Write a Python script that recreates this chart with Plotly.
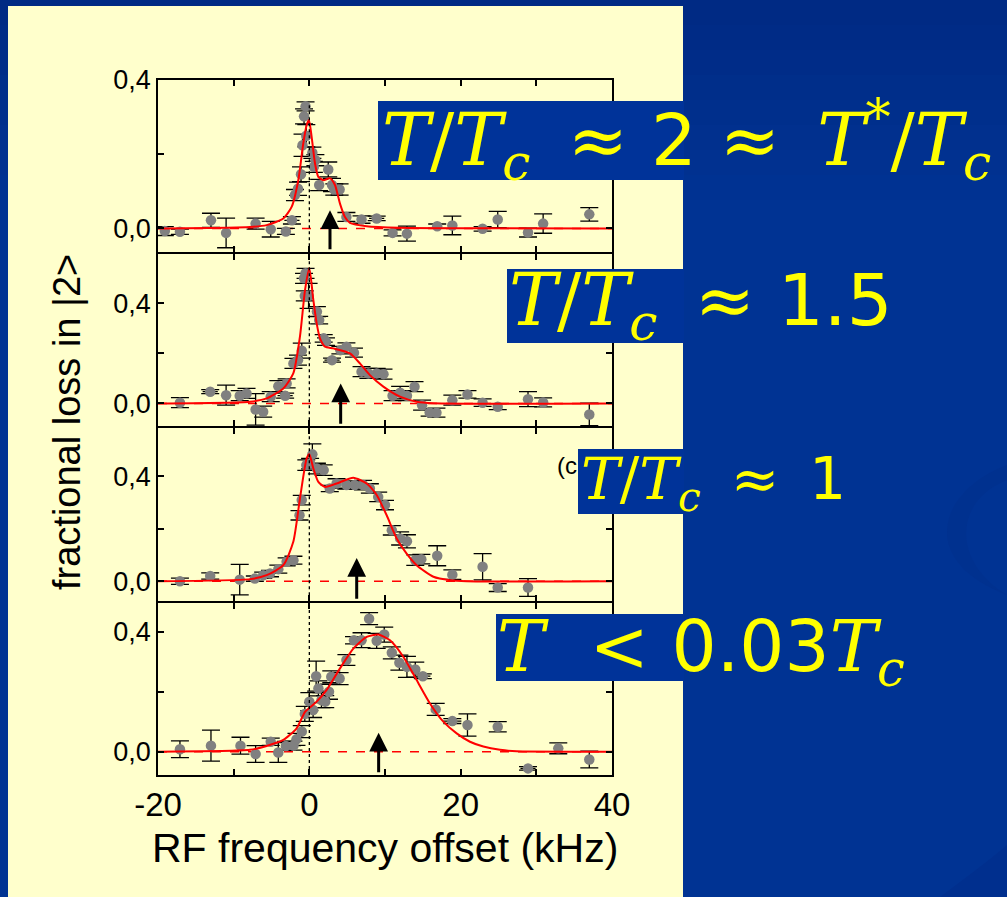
import plotly.graph_objects as go

W, H = 1007, 897

# ---------------- data ----------------
# panel (a)  T/Tc ~ 2
x1 = [-19.1, -17.1, -13.0, -11.0, -7.1, -5.1, -3.1, -2.3, -1.9, -1.5, -1.1, -0.9, -0.7, -0.5, -0.4,
      0.4, 0.6, 0.8, 1.3, 2.5, 3.0, 3.3, 4.0, 4.9, 6.9, 8.9, 11.0, 12.9, 16.9, 18.9, 22.9, 24.9, 28.9, 30.9, 37.0]
y1 = [-0.007, -0.009, 0.022, -0.012, 0.013, -0.002, -0.008, 0.022, 0.090, 0.107, 0.146, 0.224, 0.302, 0.329, 0.250,
      0.204, 0.166, 0.184, 0.117, 0.159, 0.117, 0.105, 0.105, 0.031, 0.024, 0.027, -0.012, -0.014, 0.006, 0.008,
      -0.001, 0.024, -0.011, 0.013, 0.038]
e1 = [0.012, 0.007, 0.019, 0.040, 0.015, 0.021, 0.008, 0.010, 0.015, 0.018, 0.020, 0.030, 0.020, 0.012, 0.030,
      0.015, 0.015, 0.015, 0.015, 0.020, 0.018, 0.015, 0.015, 0.012, 0.010, 0.006, 0.008, 0.020, 0.006, 0.025,
      0.006, 0.022, 0.012, 0.026, 0.018]
xe1 = [0, 0, 0, 0, 0, 0, 0, 1.0, 0, 0, 0, 0, 0, 0, 0,
       0, 0, 0, 0, 0, 0, 0, 0, 0, 0, 1.0, 0, 0, 0, 0, 0, 0, 0, 0, 0]
fx1 = [-20, -7.84, -5.64, -3.44, -2.34, -1.46, -0.80, -0.36, -0.05, 0.31, 0.75, 1.19, 1.85, 2.73, 3.39,
       4.05, 4.71, 5.37, 7.57, 11.98, 40]
fy1 = [0.0, 0.004, 0.009, 0.027, 0.058, 0.130, 0.229, 0.278, 0.292, 0.246, 0.175, 0.139, 0.130, 0.135, 0.117,
       0.067, 0.031, 0.015, 0.006, 0.002, 0.0]

# panel (b)  T/Tc ~ 1.5
x2 = [-17.1, -13.1, -11.0, -9.2, -8.3, -7.1, -6.1, -5.1, -4.1, -3.2, -3.0, -2.1, -1.5, -1.0, -0.7, -0.6, -0.5,
      -0.1, 1.0, 1.3, 1.9, 2.2, 3.0, 4.1, 4.9, 5.9, 6.9, 7.8, 8.9, 9.8, 11.0, 12.0, 12.9, 13.9, 14.9, 15.9,
      16.8, 18.9, 20.9, 22.9, 24.9, 28.9, 30.9, 37.0]
y2 = [0.003, 0.047, 0.033, 0.031, 0.040, -0.024, -0.033, 0.027, 0.069, 0.031, 0.080, 0.160, 0.173, 0.211, 0.500,
      0.430, 0.520, 0.430, 0.367, 0.333, 0.260, 0.247, 0.173, 0.213, 0.227, 0.203, 0.127, 0.120, 0.120, 0.117,
      0.031, 0.043, 0.031, 0.067, -0.007, -0.036, -0.037, 0.013, 0.036, 0.003, -0.013, 0.017, 0.004, -0.044]
e2 = [0.020, 0.008, 0.040, 0.020, 0.020, 0.063, 0.022, 0.020, 0.022, 0.010, 0.018, 0.020, 0.020, 0.030, 0.020,
      0.020, 0.020, 0.050, 0.020, 0.015, 0.015, 0.015, 0.008, 0.015, 0.015, 0.018, 0.020, 0.020, 0.020, 0.020,
      0.020, 0.025, 0.020, 0.020, 0.020, 0.015, 0.018, 0.020, 0.015, 0.015, 0.012, 0.030, 0.018, 0.045]
xe2 = [0, 1.0, 0, 0, 0, 0, 0, 0, 0, 1.0, 0, 0, 0, 0, 0, 0, 0,
       0, 0, 0, 0, 0, 1.0, 0, 0, 0, 0, 0, 0, 0, 0, 0, 0, 0, 0, 0,
       0, 0, 0, 0, 0, 0, 0, 0]
fx2 = [-20, -7.84, -5.64, -3.44, -2.12, -1.24, -0.57, 0.0, 0.53, 0.97, 1.41, 2.07, 3.17, 5.37, 6.69, 8.0, 9.78,
       11.98, 14.18, 16.4, 40]
fy2 = [0.0, 0.007, 0.020, 0.060, 0.120, 0.267, 0.453, 0.540, 0.413, 0.320, 0.260, 0.227, 0.220, 0.200, 0.160,
       0.113, 0.067, 0.027, 0.007, 0.001, 0.0]

# panel (c)  T/Tc ~ 1
x3 = [-17.1, -13.1, -9.2, -7.2, -6.1, -5.2, -4.1, -3.0, -2.1, -1.3, -1.0, -0.4, 0.1, 0.4, 1.0, 1.9, 2.7, 3.6,
      4.9, 6.0, 7.1, 8.0, 9.1, 10.0, 10.9, 12.0, 12.9, 14.0, 14.8, 16.9, 18.9, 22.9, 24.9, 28.9]
y3 = [0.0, 0.020, 0.006, 0.010, 0.023, 0.029, 0.046, 0.074, 0.080, 0.251, 0.309, 0.442, 0.448, 0.483, 0.429,
      0.423, 0.353, 0.372, 0.366, 0.366, 0.366, 0.353, 0.321, 0.290, 0.194, 0.163, 0.152, 0.080, 0.084, 0.097,
      0.025, 0.055, -0.024, -0.024]
e3 = [0.012, 0.012, 0.058, 0.010, 0.012, 0.012, 0.015, 0.015, 0.015, 0.018, 0.018, 0.020, 0.020, 0.040, 0.020,
      0.020, 0.012, 0.018, 0.015, 0.015, 0.018, 0.018, 0.018, 0.018, 0.018, 0.025, 0.025, 0.020, 0.018, 0.038,
      0.018, 0.050, 0.015, 0.034]
xe3 = [0] * len(x3)
fx3 = [-20, -7.84, -5.64, -3.44, -2.12, -1.24, -0.36, 0.0, 0.53, 1.19, 2.07, 3.61, 5.81, 7.57, 8.9, 10.22,
       11.54, 12.86, 14.18, 16.4, 18.59, 20.8, 40]
fy3 = [0.0, 0.008, 0.023, 0.061, 0.150, 0.315, 0.467, 0.483, 0.429, 0.378, 0.359, 0.372, 0.394, 0.372, 0.328,
       0.251, 0.163, 0.105, 0.061, 0.017, 0.004, 0.0, 0.0]

# panel (d)  T < 0.03 Tc
x4 = [-17.1, -13.0, -9.1, -7.1, -5.1, -4.1, -3.1, -2.1, -1.7, -1.0, -0.6, 0.0, 0.5, 0.9, 1.2, 1.6, 2.1, 2.6,
      2.9, 4.0, 4.9, 5.9, 6.9, 7.9, 8.9, 9.9, 10.9, 11.9, 12.9, 14.0, 15.0, 16.7, 18.9, 20.9, 24.9, 28.9, 32.9, 37.0]
y4 = [0.008, 0.020, 0.020, -0.008, 0.033, -0.003, 0.019, 0.020, 0.041, 0.067, 0.126, 0.167, 0.139, 0.252, 0.211,
      0.172, 0.167, 0.200, 0.250, 0.244, 0.306, 0.372, 0.372, 0.444, 0.370, 0.391, 0.330, 0.297, 0.283, 0.274,
      0.252, 0.141, 0.102, 0.089, 0.083, -0.056, 0.011, -0.026]
e4 = [0.028, 0.052, 0.028, 0.028, 0.012, 0.033, 0.015, 0.015, 0.020, 0.020, 0.025, 0.030, 0.025, 0.050, 0.025,
      0.025, 0.020, 0.025, 0.020, 0.020, 0.018, 0.012, 0.025, 0.020, 0.025, 0.025, 0.020, 0.025, 0.035, 0.025,
      0.008, 0.020, 0.008, 0.037, 0.017, 0.006, 0.018, 0.028]
xe4 = [0, 0, 0, 0, 0, 0, 0, 1.0, 0, 0, 0, 0, 0, 0, 0,
       0, 0, 0, 0, 0, 0, 0, 0, 0, 0, 0, 0, 0, 0, 0, 1.0, 0, 1.2, 0, 0, 1.0, 0, 0]
fx4 = [-20, -7.84, -5.64, -3.44, -1.68, -0.57, 0.09, 0.97, 2.29, 4.05, 5.81, 7.57, 9.12, 10.66, 12.42, 14.18,
       15.94, 17.71, 19.47, 21.23, 22.99, 25.2, 27.4, 40]
fy4 = [0.0, 0.006, 0.019, 0.039, 0.078, 0.133, 0.148, 0.167, 0.206, 0.278, 0.344, 0.383, 0.391, 0.372, 0.317,
       0.239, 0.161, 0.100, 0.061, 0.033, 0.017, 0.006, 0.001, 0.0]

arrow_x = [2.73, 4.14, 6.26, 9.16]
x_tickvals = [-20, -10, 0, 10, 20, 30, 40]
x_ticktext = ["-20", "", "0", "", "20", "", "40"]
y_tickvals = [0.0, 0.2, 0.4]
y_ticktext = ["0,0", "", "0,4"]

panels = [(x1, y1, e1, xe1, fx1, fy1), (x2, y2, e2, xe2, fx2, fy2),
          (x3, y3, e3, xe3, fx3, fy3), (x4, y4, e4, xe4, fx4, fy4)]

# ---------------- layout geometry (pixels) ----------------
LW = 1.6
px_left, px_right = 158, 612
panel_px = [(80, 253 - LW / 2), (253 + LW / 2, 427 - LW / 2), (427 + LW / 2, 602 - LW / 2), (602 + LW / 2, 775)]
y_ranges = [[-0.064, 0.4], [-0.091, 0.598], [-0.076, 0.584], [-0.078, 0.497]]
arrow_tip = [0.049, 0.080, 0.088, 0.063]


def fx(p):
    return p / W


def fy(p):
    return 1 - p / H


fig = go.Figure()
SANS = "Arial, Liberation Sans, sans-serif"

for i, (xs, ys, es, xes, fxs, fys) in enumerate(panels):
    n = "" if i == 0 else str(i + 1)
    xa, ya = "x" + n, "y" + n
    fig.add_trace(go.Scatter(x=[-20, 40], y=[0, 0], mode="lines", xaxis=xa, yaxis=ya,
                             line=dict(color="#ff0000", width=1.5, dash="dash"), hoverinfo="skip"))
    fig.add_trace(go.Scatter(x=xs, y=ys, mode="markers", xaxis=xa, yaxis=ya,
                             marker=dict(size=10.5, color="#808080"),
                             error_y=dict(type="data", array=es, color="black", thickness=1.3, width=9),
                             error_x=dict(type="data", array=xes, color="black", thickness=1.3, width=0)))
    fig.add_trace(go.Scatter(x=fxs, y=fys, mode="lines", xaxis=xa, yaxis=ya,
                             line=dict(color="#ff0000", width=2, shape="spline", smoothing=0.6),
                             hoverinfo="skip"))
    top, bot = panel_px[i]
    last = i == 3
    fig.update_layout(**{
        "xaxis" + n: dict(domain=[fx(px_left), fx(px_right)], range=[-20, 40], anchor=ya,
                          tickvals=x_tickvals, ticktext=x_ticktext, showticklabels=last,
                          ticks="inside", ticklen=6, tickwidth=1.5, tickcolor="black",
                          showline=True, linecolor="black", linewidth=LW, mirror="ticks",
                          showgrid=False, zeroline=False, automargin=False,
                          tickfont=dict(family=SANS, size=33, color="black")),
        "yaxis" + n: dict(domain=[fy(bot), fy(top)], range=y_ranges[i], anchor=xa,
                          tickvals=y_tickvals, ticktext=y_ticktext,
                          ticks="inside", ticklen=6, tickwidth=1.5, tickcolor="black",
                          showline=True, linecolor="black", linewidth=LW, mirror="ticks",
                          showgrid=False, zeroline=False, automargin=False,
                          tickfont=dict(family=SANS, size=27, color="black")),
    })
    fig.add_shape(type="line", xref=xa, yref=ya, x0=0, x1=0,
                  y0=y_ranges[i][0], y1=(0.34 if i == 0 else y_ranges[i][1]),
                  line=dict(color="black", width=1.3, dash="dot"), layer="above")
    fig.add_annotation(x=arrow_x[i], y=arrow_tip[i], ax=arrow_x[i], ay=y_ranges[i][0] + 0.004,
                       xref=xa, yref=ya, axref=xa, ayref=ya, text="", showarrow=True,
                       arrowhead=2, arrowsize=1.25, arrowwidth=3.0, arrowcolor="black", standoff=0)

# ---------------- slide background ----------------
band_colors = ["#002a84", "#002b86", "#002c88", "#002e8a", "#002f8c", "#01308e", "#013190", "#003292"]
band_h = 25
for k, c in enumerate(band_colors):
    fig.add_shape(type="rect", xref="paper", yref="paper", x0=0, x1=1,
                  y0=fy((k + 1) * band_h), y1=fy(k * band_h),
                  fillcolor=c, line_width=0, layer="below")
shapes = [
    dict(type="path", xref="paper", yref="paper",
         path="M %f %f Q %f %f %f %f L 1 %f Z" % (fx(940), fy(897), fx(990), fy(860), 1, fy(845), fy(897)),
         fillcolor="#002f8e", line_width=0, layer="below"),
    dict(type="path", xref="paper", yref="paper",
         path="M %f %f C %f %f %f %f %f %f C %f %f %f %f %f %f Z" % (
             fx(1007), fy(465), fx(940), fy(490), fx(915), fy(560), fx(1007), fy(595),
             fx(950), fy(560), fx(955), fy(500), fx(1007), fy(480)),
         fillcolor="#00318f", line_width=0, layer="below"),
    dict(type="rect", xref="paper", yref="paper", x0=fx(8), x1=fx(683), y0=0, y1=fy(6),
         fillcolor="#ffffcc", line_width=0, layer="below"),
]
for s in shapes:
    fig.add_shape(**s)

fig.add_annotation(x=fx(385), y=fy(848), xref="paper", yref="paper", text="RF frequency offset (kHz)",
                   showarrow=False, font=dict(family=SANS, size=41, color="black"),
                   xanchor="center", yanchor="middle")
fig.add_annotation(x=fx(67), y=fy(422), xref="paper", yref="paper", text="fractional loss in |2>",
                   showarrow=False, textangle=-90, font=dict(family=SANS, size=38, color="black"),
                   xanchor="center", yanchor="middle")

# panel letter, partly hidden by the label box
fig.add_annotation(x=fx(579), y=fy(466), xref="paper", yref="paper", text="(c", showarrow=False,
                   xanchor="right", font=dict(family=SANS, size=24, color="black"))

BOX = "#003399"
for (l, t, r, b) in [(378, 101, 684, 180), (507, 269, 684, 343), (578, 449, 684, 514), (496, 614, 684, 681)]:
    fig.add_annotation(x=fx(l), y=fy(t), xref="paper", yref="paper", text=" ", showarrow=False,
                       xanchor="left", yanchor="top", width=r - l, height=b - t,
                       bgcolor=BOX, borderpad=0, borderwidth=0)

SERIF = "DejaVu Serif, Liberation Serif, serif"
DIG = "<span style='font-family:DejaVu Sans'>%s</span>"
TS = "\u2009"  # thin space
labels = [
    ("<i>T</i>/<i>T</i><sub><i>c</i></sub> " + TS + "≈ " + DIG % "2" + " ≈ " + TS
     + "<i>T</i><sup>*</sup>/<i>T</i><sub><i>c</i></sub>", 381, 140, 72),
    ("<i>T</i>/<i>T</i><sub><i>c</i></sub> " + TS + "≈ " + DIG % "1.5", 508, 305, 72),
    ("<i>T</i>/<i>T</i><sub><i>c</i></sub> " + TS + "≈ " + TS + DIG % "1", 580, 483, 58),
    ("<i>T</i>  &lt; " + DIG % "0.03" + "<i>T</i><sub><i>c</i></sub>", 496, 651, 71),
]
for txt, lx, ly, sz in labels:
    fig.add_annotation(x=fx(lx), y=fy(ly), xref="paper", yref="paper", text=txt, showarrow=False,
                       xanchor="left", yanchor="middle", borderpad=0,
                       font=dict(family=SERIF, size=sz, color="#ffff00"))

fig.update_layout(width=W, height=H, margin=dict(l=0, r=0, t=0, b=0, autoexpand=False),
                  paper_bgcolor="#003393", plot_bgcolor="rgba(0,0,0,0)", showlegend=False)

fig.write_html("out.html")
